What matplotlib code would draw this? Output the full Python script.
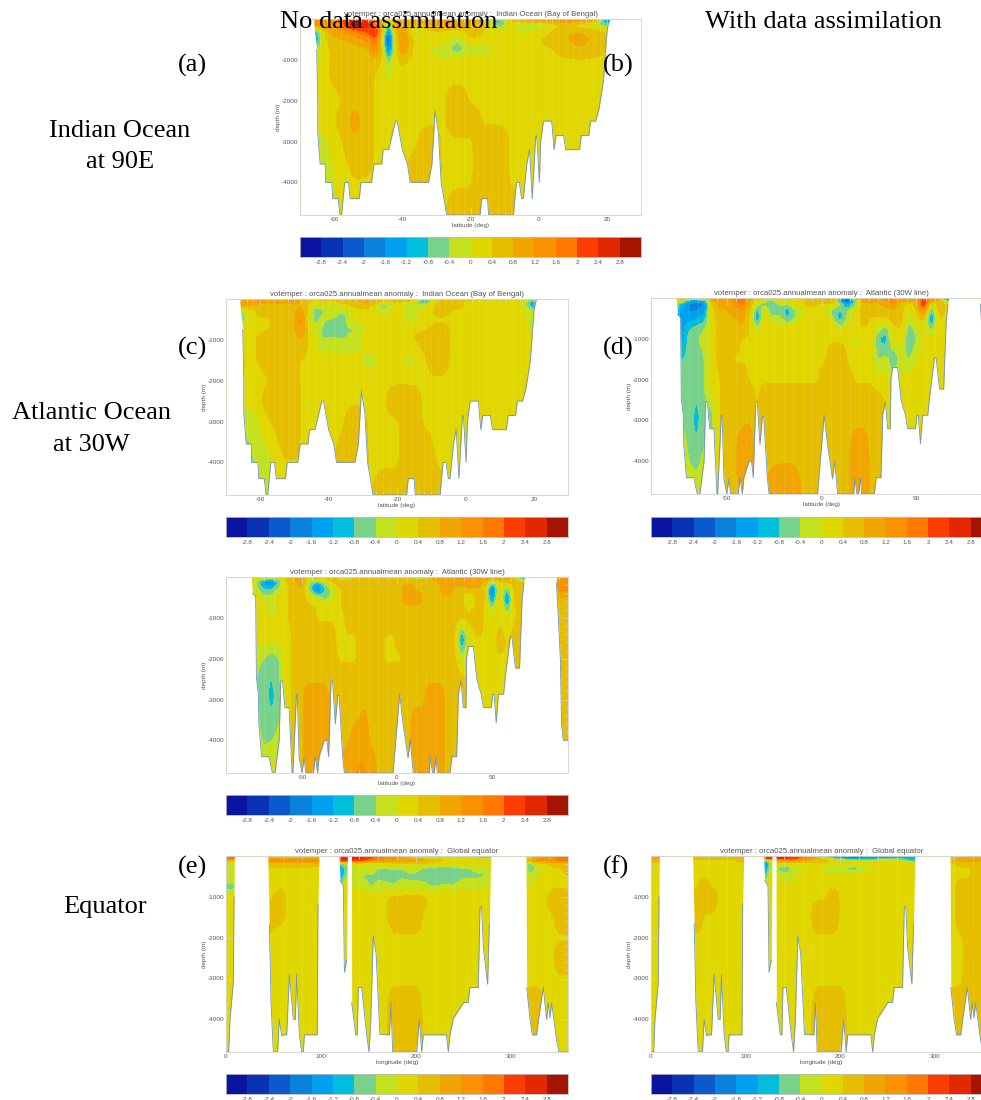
import numpy as np
import matplotlib
matplotlib.use("Agg")
import matplotlib.pyplot as plt
from matplotlib.colors import ListedColormap, BoundaryNorm

W, H = 981, 1100

# colour scale
levels = [-3.2, -2.8, -2.4, -2, -1.6, -1.2, -0.8, -0.4, 0, 0.4, 0.8, 1.2, 1.6, 2, 2.4, 2.8, 3.2]
colors = ["#0A14A0", "#0A32B4", "#0A5ACD", "#0A82DC", "#00A0F0", "#00BEDC", "#78D28C", "#C3E11E",
          "#E1D700", "#E6BE00", "#F0A500", "#FA9100", "#FF7800", "#FF3C00", "#E12800", "#A51400"]
cbar_ticks = [-2.8, -2.4, -2, -1.6, -1.2, -0.8, -0.4, 0, 0.4, 0.8, 1.2, 1.6, 2, 2.4, 2.8]
cbar_labels = ["-2.8", "-2.4", "-2", "-1.6", "-1.2", "-0.8", "-0.4", "0", "0.4", "0.8", "1.2", "1.6", "2", "2.4", "2.8"]

# --- Indian Ocean section ---
indian_lat = [-70, -66, -62, -58, -54, -50, -48, -46, -44, -42, -40, -36, -32, -28, -24, -20, -16, -12, -8, -4, 0, 4, 8, 12, 16, 20, 24]
section_depth = [0, 60, 150, 300, 500, 750, 1000, 1500, 2000, 2500, 3000, 4000, 4800]

indian_bot_lat = [-70, -66.1, -65.1, -64.8, -64.8, -64.1, -62.6, -62.5, -60.7, -60.4, -58.8, -58.3, -57.8, -56.9, -55.8, -55.3, -52.6, -52.1, -49, -48.3, -46, -45.6, -44, -42, -41.5, -40, -38.5, -37.7, -32.3, -31.3, -30.4, -29.4, -28.6, -27, -17.2, -16.7, -15, -14.7, -7.4, -7, -6.5, -5.7, -5, -4.5, -3.5, -2.7, -1.9, -0.9, -0.6, 0.2, 0.6, 1.4, 3.8, 4.5, 5.1, 7.3, 7.9, 12, 12.5, 14.7, 15.2, 16.7, 17.7, 19, 20, 20.4, 21, 30]
indian_bot_depth = [0, 0, 750, 2000, 2800, 3550, 3550, 4000, 4000, 4400, 4400, 4800, 4800, 4000, 4000, 4400, 4400, 4000, 4000, 3550, 3550, 3200, 3200, 2500, 2500, 3200, 3550, 4000, 4000, 3550, 2250, 2800, 4000, 4800, 4800, 4400, 4400, 4800, 4800, 4400, 4000, 4000, 4400, 4400, 3550, 3200, 4400, 2900, 2850, 4000, 3000, 2500, 2500, 3200, 2850, 2850, 3200, 3200, 2850, 2850, 2500, 2500, 2200, 1500, 350, 100, 0, 0]

# values in tenths of a degree
indian_a = [
    [12, 14, 14, 16, 22, 16, 14, 10, 2, 10, 12, 10, 12, 14, 12, 10, 10, -8, 8, 10, 12, 14, 16, 16, 12, -10, 2],
    [12, 14, 14, 18, 32, 22, 14, 8, -4, 8, 10, 8, 12, 14, 12, 10, 8, -12, 4, 6, 8, 8, 10, 8, 6, -14, 2],
    [8, 12, 12, 16, 32, 26, 18, 8, -8, 10, 12, 4, 8, 10, 10, 8, 6, -8, 2, -4, -4, 2, 6, 2, -2, -6, 2],
    [4, -12, 8, 12, 16, 22, 26, 6, -16, 6, 12, -3, 4, 4, 2, 6, 4, 2, 2, -2, 2, 4, 8, 8, 6, 4, 2],
    [4, -16, 6, 8, 10, 14, 20, 2, -26, 2, 14, 2, 2, 4, -4, 4, 4, 4, 4, 4, 4, 6, 8, 10, 8, 4, 2],
    [4, -6, 4, 6, 6, 8, 16, 4, -18, 2, 12, 2, 0, -2, -6, -2, -4, 2, 4, 4, 4, 4, 6, 8, 6, 4, 2],
    [4, 2, 4, 6, 6, 6, 6, 4, -6, 2, 6, 2, 2, 0, 2, 2, 2, 4, 4, 4, 4, 4, 4, 4, 4, 4, 2],
    [4, 4, 4, 6, 8, 6, 4, 2, 0, 2, 2, 2, 2, 4, 4, 4, 4, 4, 2, 2, 4, 4, 2, 4, 4, 4, 2],
    [4, 2, 2, 4, 8, 6, 4, 2, 2, 2, 2, 4, 4, 4, 6, 4, 4, 4, 4, 2, 2, 4, 4, 4, 4, 4, 2],
    [4, 2, 2, 6, 10, 6, 4, 2, 2, 2, 4, 4, 4, 4, 6, 6, 4, 4, 4, 4, 2, 4, 4, 4, 4, 4, 2],
    [4, -2, 0, 4, 8, 6, 4, 2, 2, 2, 4, 4, 6, 4, 4, 4, 6, 6, 4, 4, 2, 4, 4, 4, 4, 4, 2],
    [4, -4, -2, 2, 4, 4, 4, 2, 2, 2, 4, 6, 7, 4, 4, 4, 6, 6, 4, 4, 2, 4, 4, 4, 4, 4, 2],
    [4, -4, -2, 2, 4, 4, 4, 2, 2, 2, 4, 6, 6, 4, 6, 6, 6, 6, 6, 4, 2, 4, 4, 4, 4, 4, 2],
]
indian_c = [
    [10, 12, 12, 12, 12, 10, 8, 6, 4, 6, 6, 8, 8, 8, 6, 8, 8, -2, 6, 6, 8, -2, -2, -2, 4, -4, 2],
    [10, 12, 12, 12, 10, 10, 8, 6, 2, 4, 2, 6, 8, 10, 2, 6, 4, -14, 6, 6, 4, 2, 0, 4, 2, -10, 2],
    [-4, 10, 8, 6, 6, 8, 8, 4, -2, 2, -2, 2, 6, 6, -6, 2, -4, -2, 6, 6, 4, 2, 2, 4, 2, -14, 2],
    [2, -6, 4, 6, 4, 8, 10, 4, -6, -6, 2, -4, 2, 4, -4, 4, -2, 2, 6, 4, 4, 4, 4, 4, 2, -2, 2],
    [2, -8, 4, 4, 6, 8, 14, 2, -6, -2, -4, -6, 2, 2, 2, 2, -2, 2, 4, 4, 4, 4, 4, 4, 2, -4, 2],
    [2, 2, 4, 4, 6, 8, 13, 4, 0, -4, -8, -4, -4, 2, 2, 4, 4, 4, 6, 4, 4, 2, 2, 4, 4, -2, 2],
    [2, 2, 4, 6, 6, 6, 8, 4, 2, -4, -2, -4, -2, 4, 2, 4, 4, 6, 6, 4, 4, 2, 4, 4, 4, 2, 2],
    [2, 2, 4, 6, 6, 6, 4, 4, 2, 2, 2, 2, 2, -2, 2, 2, -2, 4, 6, 4, 4, 4, 2, 2, 2, 2, 2],
    [2, 2, 2, 4, 8, 6, 4, 2, 2, 2, 2, 2, 2, 2, 4, 4, 4, 4, 4, 4, 4, 2, 4, 2, 2, 2, 2],
    [2, 2, 2, 6, 8, 8, 4, 2, 2, 2, 2, 4, 4, 4, 4, 6, 6, 4, 4, 4, 4, 4, 4, 4, 4, 2, 2],
    [2, -4, -2, 4, 6, 8, 4, 2, 2, 2, 2, 4, 6, 4, 4, 4, 6, 4, 4, 4, 4, 4, 4, 4, 4, 2, 2],
    [2, -6, -4, -2, 4, 4, 4, 2, 2, 2, 4, 6, 7, 4, 4, 4, 6, 6, 4, 4, 4, 4, 4, 4, 4, 2, 2],
    [2, -6, -4, -2, 4, 4, 4, 2, 2, 2, 4, 6, 6, 4, 6, 6, 6, 6, 6, 4, 4, 4, 4, 4, 4, 2, 2],
]

# --- Atlantic section ---
atlantic_lat = [-90, -78, -74, -70, -66, -62, -58, -54, -50, -46, -42, -38, -34, -30, -26, -22, -18, -14, -10, -6, -2, 2, 6, 10, 14, 18, 22, 26, 30, 34, 38, 42, 46, 50, 54, 58, 62, 66, 70, 84, 90]

atlantic_bot_lat = [-90, -76.7, -76, -74.4, -74, -73, -72.7, -71.3, -67.4, -65.6, -64.2, -62, -61.2, -60.3, -59, -56.8, -55.2, -54.8, -52.9, -52.5, -51.5, -50, -48.9, -48, -44, -43, -41.8, -41, -38.3, -36.9, -36, -34.7, -33.9, -32.5, -31.2, -30.5, -28.6, -27.7, -2.1, 1.4, 3.2, 5.8, 7, 8.5, 17, 17.6, 18.7, 19.6, 20.5, 21.2, 27.9, 28.9, 31.4, 32.3, 33.7, 34.9, 36.3, 36.7, 37.6, 40.2, 42, 44.3, 45.5, 49.6, 50.4, 51.1, 52.2, 53.4, 56.1, 57, 59.6, 60.5, 62.3, 64.5, 65.8, 66.7, 67.2, 83.8, 83.9, 84.9, 86, 86.6, 87.5, 90]
atlantic_bot_depth = [0, 0, 400, 480, 2450, 2870, 3600, 4400, 4400, 4800, 4800, 4000, 2540, 2540, 3200, 3200, 4800, 4800, 2870, 2870, 4430, 4800, 4430, 4800, 4800, 4400, 4800, 4400, 4000, 4000, 4400, 2540, 2540, 3600, 2900, 2900, 4400, 4800, 4800, 2870, 3600, 4430, 4000, 4800, 4800, 4400, 4800, 4800, 4400, 4800, 4800, 4400, 4400, 2870, 2540, 3200, 3200, 1960, 1700, 1700, 2500, 2870, 3200, 3200, 2870, 2870, 3570, 2870, 2870, 2450, 1470, 1470, 2230, 2230, 600, 150, 0, 0, 150, 1000, 2050, 3600, 4000, 4000]

atlantic_mid = [
    [6, 6, 8, 6, 2, 4, 8, 10, 10, 2, 6, 4, 8, -2, -10, 4, -4, 6, 0, 6, -12, 8, 8, -14, -18, 8, 10, 10, 12, 14, 14, 14, 12, 10, 12, 12, 8, -16, 6, 10, 10],
    [6, 6, -2, -6, -8, -4, 6, 8, 10, 0, 4, 2, 6, 4, 4, 8, 6, 8, 6, 8, 6, 8, 8, 6, 4, 8, 10, 10, 10, 12, 12, 12, 10, 4, 8, 8, 6, -10, 6, 12, 12],
    [4, 2, -4, -14, -16, -6, 4, 8, 10, -4, -10, -4, 4, 6, 8, 8, 8, 8, 8, 8, 8, 8, 8, 8, 8, 8, 8, 10, 10, 10, 10, 10, 8, -6, 2, 4, 6, 6, 6, 15, 15],
    [4, 2, -2, -8, -8, -2, 4, 6, 8, -6, -18, -8, -2, 4, 6, 6, 8, 8, 8, 8, 8, 8, 10, 8, 8, 8, 8, 10, 8, 6, 8, 8, 6, -18, 2, -6, 6, 6, 6, 14, 14],
    [4, 2, 2, -2, -2, 2, 4, 6, 6, 2, -2, -6, -2, 4, 6, 6, 6, 8, 6, 8, 8, 8, 10, 10, 8, 8, 8, 8, 8, 6, -2, 6, 6, -16, 4, -16, 6, 6, 6, 8, 8],
    [4, 2, 2, 2, -2, 2, 4, 6, 6, 6, 4, 4, 4, 4, 6, 6, 6, 6, 6, 6, 8, 8, 8, 8, 8, 8, 8, 8, 6, 6, 2, 6, 4, -4, 4, -8, 4, 6, 6, 6, 6],
    [4, 2, 2, 2, 0, 2, 4, 6, 6, 6, 4, 4, 4, 2, 6, 6, 6, 6, 6, 6, 6, 6, 8, 8, 8, 8, 6, 8, 6, 6, 6, 8, 4, 0, 4, 0, 4, 6, 6, 6, 6],
    [4, 2, 2, 2, 2, 2, 2, 6, 6, 6, 6, 6, 6, 2, 4, 4, 6, 6, 6, 4, 4, 6, 6, 8, 6, 6, 6, 6, 6, -14, 0, 4, 4, 2, 6, 4, 6, 6, 6, 6, 6],
    [4, 2, -2, -4, -6, -4, 2, 6, 6, 6, 6, 6, 6, 4, 4, 4, 6, 6, 6, 4, 4, 4, 6, 6, 6, 6, 6, 6, 6, -2, 2, 4, 4, 4, 4, 4, 6, 6, 6, 6, 6],
    [4, 2, -4, -6, -8, -4, 2, 6, 8, 8, 8, 8, 6, 6, 6, 6, 6, 6, 6, 6, 6, 6, 8, 8, 8, 8, 8, 8, 8, 6, 4, 4, 4, 4, 4, 4, 6, 6, 6, 6, 6],
    [4, 2, -4, -6, -9, -6, 2, 6, 8, 10, 10, 10, 8, 6, 6, 6, 8, 8, 8, 8, 8, 8, 8, 8, 8, 10, 10, 8, 8, 6, 4, 4, 4, 4, 4, 4, 6, 6, 6, 6, 6],
    [4, 2, -2, -4, -4, -2, 2, 6, 8, 10, 12, 11, 8, 8, 8, 10, 10, 8, 8, 8, 8, 8, 8, 10, 10, 10, 10, 8, 8, 6, 4, 4, 4, 4, 4, 4, 6, 6, 6, 6, 6],
    [4, 2, -2, -2, 2, 2, 2, 6, 8, 10, 10, 10, 8, 8, 10, 12, 14, 10, 8, 8, 8, 8, 8, 10, 10, 10, 10, 8, 8, 6, 4, 4, 4, 4, 4, 4, 6, 6, 6, 6, 6],
]
atlantic_d = [
    [4, 8, 10, 10, 10, 10, 10, 12, 10, 12, 14, 10, 8, 6, 4, 4, -2, 4, -10, 4, 6, 8, 10, -6, -14, 10, 10, 8, 10, 12, 14, 12, 12, 12, 14, 10, 10, -20, 4, 4, 4],
    [4, 2, 2, -12, -14, -10, 8, 10, 10, 14, 20, 8, 2, -2, -6, 4, 2, 4, 4, 8, 6, 8, 8, -16, -24, -6, 10, 10, 8, 12, 16, 10, 10, 8, 24, 10, 8, -12, 4, 4, 4],
    [4, -2, -10, -16, -18, -16, 4, 10, 10, 12, 18, 8, -2, -6, -8, -2, -4, 2, 4, 6, 4, 4, 4, -4, -14, -4, 6, 8, 8, 10, 12, 6, 2, 6, 26, -2, 8, 4, 4, 4, 4],
    [4, -2, -14, -16, -16, -14, 2, 8, 8, 10, 12, 6, -10, 2, -8, -6, -10, -4, -2, 2, 4, 2, -6, -8, -4, 2, 6, 6, 6, 6, 8, 6, 0, 4, 14, -8, 6, 4, 4, 4, 4],
    [4, -2, -14, -14, -12, -10, 2, 6, 8, 8, 10, 4, -12, 2, -2, -2, -8, -4, 2, 4, 4, 4, -4, -10, -2, 2, 6, 4, 4, 4, 6, 6, -2, 2, 6, -14, 4, 4, 4, 4, 4],
    [4, -2, -14, -8, -6, -4, 2, 6, 6, 6, 8, 4, -2, 2, 2, 2, 2, 4, 4, 4, 4, 4, 4, -2, 2, 4, 4, 4, -2, -6, 4, 4, -6, -2, 2, -6, 4, 4, 4, 4, 4],
    [4, -2, -14, -6, -4, -2, 2, 6, 6, 6, 4, 4, 2, 2, 2, 2, 2, 4, 4, 4, 4, 4, 4, 4, 4, -2, 4, 2, -8, -10, 2, 2, -8, -4, 2, 2, 4, 4, 4, 4, 4],
    [4, -2, -8, -6, -6, -4, 2, 6, 6, 4, 4, 4, 2, 2, 2, 2, 2, 4, 4, 4, 4, 4, 6, 6, 4, 2, 4, 2, -4, -2, -8, -2, -4, 0, 2, 2, 4, 4, 4, 4, 4],
    [4, -2, -4, -4, -6, -4, 2, 4, 6, 6, 6, 4, 4, 4, 4, 4, 4, 4, 4, 4, 4, 6, 6, 6, 6, 4, 4, 4, 2, 2, -2, 2, 2, 2, 2, 4, 4, 4, 4, 4, 4],
    [4, -2, -4, -4, -8, -4, -2, 4, 6, 6, 8, 6, 4, 6, 6, 6, 6, 6, 6, 6, 6, 6, 8, 8, 8, 6, 6, 6, 6, 4, 2, 2, 2, 2, 4, 4, 4, 4, 4, 4, 4],
    [4, -2, -4, -6, -9, -6, -6, 4, 8, 8, 8, 8, 6, 6, 6, 6, 6, 6, 6, 6, 8, 8, 8, 8, 8, 8, 8, 8, 6, 4, 4, 4, 4, 4, 4, 4, 4, 4, 4, 4, 4],
    [4, 2, 2, -4, -6, -2, -2, 4, 6, 8, 10, 12, 8, 8, 8, 8, 8, 8, 8, 6, 6, 8, 8, 8, 8, 10, 10, 8, 8, 6, 4, 4, 4, 4, 4, 4, 4, 4, 4, 4, 4],
    [4, 2, 2, 2, 2, 2, 2, 4, 6, 8, 8, 8, 8, 8, 10, 12, 13, 10, 8, 8, 8, 8, 8, 8, 8, 10, 10, 8, 8, 6, 4, 4, 4, 4, 4, 4, 4, 4, 4, 4, 4],
]

# --- Equator section ---
equator_lon = [0, 8, 16, 24, 32, 40, 48, 56, 64, 72, 80, 88, 96, 104, 112, 120, 128, 136, 144, 152, 160, 168, 176, 184, 192, 200, 208, 216, 224, 232, 240, 248, 256, 264, 272, 280, 288, 296, 304, 312, 320, 328, 336, 344, 352, 360]
equator_depth = [0, 40, 100, 180, 300, 500, 750, 1000, 1500, 2000, 2500, 3000, 4000, 4800]

equator_bot_lon = [0, 2.8, 4.2, 7.7, 8.5, 8.8, 8.9, 43.8, 43.9, 45.6, 47.4, 49.8, 54.4, 56, 58.6, 60.4, 63.9, 66.7, 70.9, 73, 74.4, 77.2, 79.6, 81.4, 82.5, 96.1, 96.8, 97.9, 98, 118.9, 119, 120, 123.5, 124.6, 127, 127.7, 127.8, 131.9, 132, 132.3, 136.5, 138.2, 139.3, 142.8, 148, 150.5, 152.3, 155, 158, 162, 172, 173.7, 175.4, 200.7, 203.5, 206, 207.7, 232, 234, 235.8, 239.3, 250, 255, 256.8, 265.6, 267.4, 269, 270.9, 275.4, 277.2, 278.6, 278.7, 315.7, 315.8, 316.5, 320, 322.5, 327, 329, 334, 337.5, 339.3, 341, 342.8, 348, 350.5, 360]
equator_bot_depth = [4800, 4800, 4000, 3100, 1000, 0, 0, 0, 0, 1660, 3600, 4800, 4800, 4000, 4400, 4380, 4380, 2900, 4000, 4000, 2900, 4380, 4800, 4800, 4380, 4380, 1170, 0, 0, 0, 0, 600, 730, 2850, 2550, 0, 0, 0, 0, 3590, 4380, 4380, 3220, 3220, 4370, 4800, 4100, 1950, 2400, 4370, 4380, 3600, 4800, 4800, 4000, 4800, 4380, 4380, 4800, 4380, 3980, 3590, 3590, 3220, 3220, 1250, 1250, 2240, 3140, 1660, 0, 0, 0, 0, 3220, 4000, 4380, 4380, 4000, 3220, 4000, 3600, 3960, 3600, 4520, 4800, 4800]

equator_e = [
    [14, 14, 4, 4, 4, 4, 2, 4, 4, 4, 4, -2, -4, 4, 4, 28, 28, 20, 16, 12, 10, 8, 6, 2, -4, -8, -12, -10, -8, -8, -8, -6, -6, -8, -10, -10, 4, 4, 4, 4, 4, 8, 10, 12, 14, 16],
    [22, 20, 4, 4, 4, 4, 6, 6, 6, 6, 6, 6, 8, 4, 4, 28, 28, 26, 26, 22, 20, 16, 14, 10, 6, 2, -2, -4, -2, 2, 2, 0, -2, -4, -6, -6, 4, 4, 4, 4, 2, 10, 12, 14, 18, 20],
    [8, 6, 4, 4, 4, 4, 16, 16, 16, 16, 16, 16, 16, 4, 4, 24, 26, 22, 22, 16, 14, 12, 12, 12, 12, 10, 10, 8, 6, 4, 4, 4, 4, 2, 2, 2, 4, 4, 4, 4, 10, 14, 14, 16, 18, 18],
    [-2, -4, 4, 4, 4, 4, 6, 6, 6, 6, 6, 6, 8, 4, 4, -6, -2, 2, 2, 0, 2, 2, 4, 4, 4, 4, 4, 4, 2, 2, 2, 2, 2, 2, 2, 2, 4, 4, 4, 4, -6, 4, 4, 6, 6, 6],
    [-2, -2, 4, 4, 4, 4, 4, 4, 4, 4, 4, 4, 2, 4, 4, -14, -4, 0, -2, -2, -4, -4, -3, -4, -3, -3, -4, -5, -6, -6, -5, -4, -4, -3, -3, -3, 4, 4, 4, 4, -8, -2, 2, 4, 4, 6],
    [2, 0, 4, 4, 4, 4, 2, 2, 2, 2, 2, 2, 2, 4, 4, -14, -2, -2, -4, -4, -4, -5, -6, -4, -4, -4, -5, -6, -8, -8, -6, -4, -4, -4, -4, -2, 4, 4, 4, 4, -2, 0, 2, 4, 4, 4],
    [-6, -6, 4, 4, 4, 4, 2, 4, 4, 4, 2, 2, 2, 4, 4, 0, 2, 0, -2, -4, -3, -2, -3, -2, -3, -3, -2, -4, -3, -2, -3, -2, -2, -2, 0, 0, 4, 4, 4, 4, 0, 2, 2, 4, 4, 4],
    [2, 2, 4, 4, 4, 4, 4, 6, 4, 4, 4, 4, 4, 4, 4, 2, 2, 2, 4, 4, 4, 4, 5, 5, 6, 6, 5, 4, 4, 4, 4, 4, 4, 4, 4, 4, 4, 4, 4, 4, 2, 4, 4, 6, 6, 6],
    [4, 4, 4, 4, 4, 4, 6, 6, 4, 4, 4, 2, 2, 4, 4, 2, 2, 2, 4, 4, 4, 4, 6, 6, 6, 6, 4, 4, 4, 4, 4, 4, 4, 4, 4, 4, 4, 4, 4, 4, 4, 4, 4, 4, 6, 6],
    [2, 2, 4, 4, 4, 4, 4, 2, 2, 2, 2, 2, 2, 4, 4, 2, 2, 2, 2, 2, 2, 2, 4, 4, 4, 4, 4, 4, 4, 4, 4, 4, 4, 4, 2, 2, 4, 4, 4, 4, 2, 2, 4, 4, 4, 4],
    [2, 2, 4, 4, 4, 4, 2, 2, 2, 2, 2, 2, 2, 4, 4, 4, 4, 2, 4, 4, 4, 4, 4, 4, 4, 4, 4, 4, 4, 4, 4, 4, 4, 2, 2, 2, 4, 4, 4, 4, 2, 4, 4, 4, 6, 6],
    [2, 2, 4, 4, 4, 4, 4, 2, 2, 2, 2, 2, 2, 4, 4, 4, 4, 4, 4, 4, 4, 4, 4, 4, 4, 4, 4, 4, 4, 4, 4, 4, 4, 4, 4, 4, 4, 4, 4, 4, 4, 4, 4, 4, 4, 4],
    [4, 4, 4, 4, 4, 4, 2, 2, 2, 2, 2, 2, 2, 4, 4, 4, 4, 4, 4, 4, 4, 4, 6, 6, 6, 6, 4, 4, 4, 4, 4, 4, 4, 4, 4, 4, 4, 4, 4, 4, 6, 6, 4, 4, 4, 4],
    [4, 4, 4, 4, 4, 4, 2, 2, 2, 2, 2, 2, 2, 4, 4, 4, 4, 4, 4, 4, 4, 4, 6, 6, 6, 6, 4, 4, 4, 4, 4, 4, 4, 4, 4, 4, 4, 4, 4, 4, 6, 6, 4, 4, 4, 4],
]
equator_f = [
    [10, 10, 4, 4, 4, 4, 6, 6, 6, 6, 6, 6, 6, 4, 4, 24, 24, 18, 16, 12, 8, 4, -4, -10, -14, -16, -18, -18, -18, -18, -16, -14, -14, -12, -12, -12, 4, 4, 4, 4, 6, 8, 8, 8, 8, 8],
    [10, 10, 4, 4, 4, 4, 6, 6, 6, 6, 6, 6, 6, 4, 4, 26, 24, 28, 26, 24, 20, 14, 6, -4, -10, -14, -18, -18, -18, -16, -14, -14, -12, -10, -12, -12, 4, 4, 4, 4, 8, 8, 10, 8, 8, 8],
    [6, 6, 4, 4, 4, 4, 4, 4, 4, 4, 4, 4, 6, 4, 4, -4, 2, 14, 14, 12, 10, 8, 8, 6, 2, 0, -4, -6, -4, -4, -2, -2, -2, -4, -8, -8, 4, 4, 4, 4, 8, 10, 10, 10, 8, 8],
    [4, 4, 4, 4, 4, 4, 4, 4, 4, 4, 4, 4, 4, 4, 4, -18, 0, 2, 0, 2, 2, 2, 4, 4, 2, 2, 2, 2, 2, 2, 2, 2, 2, 2, 2, -4, 4, 4, 4, 4, 4, 6, 6, 6, 6, 6],
    [4, 4, 4, 4, 4, 4, 4, 4, 4, 4, 4, 4, 4, 4, 4, -16, 2, -6, -6, -2, 0, 0, 2, -2, -5, -3, -5, -6, -2, 0, 2, 2, 2, 2, 2, 0, 4, 4, 4, 4, 4, 4, 4, 6, 6, 6],
    [2, 2, 4, 4, 4, 4, 4, 4, 4, 4, 4, 4, 4, 4, 4, -8, 2, 0, -2, 0, 2, 2, 2, 2, 2, 2, 2, 2, 2, 2, 2, 2, 2, 2, 2, 2, 4, 4, 4, 4, 4, 4, 4, 6, 6, 6],
    [2, 2, 4, 4, 4, 4, 4, 6, 4, 4, 4, 4, 4, 4, 4, 2, 2, 2, 2, 2, 2, 2, 4, 4, 4, 4, 4, 4, 4, 4, 4, 4, 2, 2, 2, 2, 4, 4, 4, 4, 4, 6, 6, 8, 8, 8],
    [2, 2, 4, 4, 4, 4, 6, 6, 6, 4, 4, 4, 4, 4, 4, 4, 2, 2, 4, 4, 4, 4, 4, 4, 6, 4, 4, 4, 4, 4, 4, 4, 4, 4, 4, 2, 4, 4, 4, 4, 4, 6, 8, 8, 8, 6],
    [4, 4, 4, 4, 4, 4, 6, 4, 4, 4, 4, 4, 4, 4, 4, 4, 2, 2, 4, 4, 4, 4, 6, 6, 6, 4, 4, 4, 4, 4, 4, 4, 4, 4, 4, 4, 4, 4, 4, 4, 4, 6, 6, 6, 6, 6],
    [4, 4, 4, 4, 4, 4, 4, 4, 4, 4, 4, 4, 4, 4, 4, 4, 4, 4, 4, 4, 4, 4, 4, 4, 4, 4, 4, 4, 4, 4, 4, 4, 4, 4, 4, 4, 4, 4, 4, 4, 4, 4, 6, 6, 6, 6],
    [4, 4, 4, 4, 4, 4, 4, 4, 4, 4, 4, 4, 4, 4, 4, 4, 4, 4, 4, 4, 4, 4, 4, 4, 4, 4, 4, 4, 4, 4, 4, 4, 4, 4, 4, 4, 4, 4, 4, 4, 4, 4, 6, 6, 6, 6],
    [4, 4, 4, 4, 4, 4, 4, 4, 4, 4, 4, 4, 4, 4, 4, 4, 4, 4, 4, 4, 4, 4, 4, 4, 4, 4, 4, 4, 4, 4, 4, 4, 4, 4, 4, 4, 4, 4, 4, 4, 4, 4, 6, 6, 6, 6],
    [4, 4, 4, 4, 4, 4, 4, 4, 4, 4, 4, 4, 4, 4, 4, 4, 4, 4, 4, 4, 4, 4, 6, 6, 6, 6, 4, 4, 4, 4, 4, 4, 4, 4, 4, 4, 4, 4, 4, 4, 6, 6, 6, 6, 4, 4],
    [4, 4, 4, 4, 4, 4, 4, 4, 4, 4, 4, 4, 4, 4, 4, 4, 4, 4, 4, 4, 4, 4, 6, 6, 6, 6, 4, 4, 4, 4, 4, 4, 4, 4, 4, 4, 4, 4, 4, 4, 6, 6, 6, 6, 4, 4],
]

cmap = ListedColormap(colors)
norm = BoundaryNorm(levels, cmap.N)
grey = "#555555"
light = "#d4d4d4"
fig = plt.figure(figsize=(W / 100, H / 100), dpi=100)
plt.rcParams["font.family"] = ["Liberation Sans", "DejaVu Sans"]


def px_axes(left, top, right, bottom):
    return fig.add_axes([left / W, 1 - bottom / H, (right - left) / W, (bottom - top) / H])


def soften(x, depth, field):
    # the reference is a blurry screenshot, so round off the grid facets before contouring
    n_d, n_x = len(depth), len(x)
    idx_x = np.linspace(0, n_x - 1, (n_x - 1) * 8 + 1)
    idx_d = np.linspace(0, n_d - 1, (n_d - 1) * 8 + 1)
    grid = np.array([np.interp(idx_x, np.arange(n_x), row) for row in np.array(field, dtype=float)])
    grid = np.array([np.interp(idx_d, np.arange(n_d), col) for col in grid.T]).T
    kernel = np.ones(5) / 5
    for axis in (0, 1):
        padded = np.pad(grid, [(2, 2) if a == axis else (0, 0) for a in (0, 1)], mode="edge")
        grid = np.apply_along_axis(lambda v: np.convolve(v, kernel, mode="valid"), axis, padded)
    return np.interp(idx_x, np.arange(n_x), x), np.interp(idx_d, np.arange(n_d), depth), grid


def section(box, cbar_top, x, depth, field, bot_x, bot_depth, xlim, xticks, xminor, xlabel, title):
    ax = px_axes(*box)
    fx, fd, grid = soften(x, depth, field)
    # the 0.04 keeps values read as 0.4, 0.8 ... off the colour boundaries
    ax.contourf(fx, -fd, grid / 10 - 0.04, levels=levels, cmap=cmap, norm=norm, extend="both")
    ax.grid(True, axis="x", which="minor", color="white", alpha=0.1, lw=0.6, zorder=1.5)
    bot = -np.array(bot_depth, dtype=float)
    ax.fill_between(bot_x, bot, -4800, color="white", lw=0, zorder=2)
    ax.plot(bot_x, np.where(bot < 0, bot, np.nan), color="#6f94b8", lw=0.6, zorder=3)
    ax.set_xlim(*xlim)
    ax.set_ylim(-4800, 0)
    ax.set_xticks(xticks)
    ax.set_xticklabels([str(t) for t in xticks])
    ax.set_xticks(xminor, minor=True)
    ax.set_yticks([-1000, -2000, -3000, -4000])
    ax.set_yticklabels(["-1000", "-2000", "-3000", "-4000"])
    ax.set_yticks(np.arange(-4800, 1, 200), minor=True)
    ax.tick_params(which="major", direction="in", length=5, width=0.5, color=light, labelsize=4.6,
                   labelcolor=grey, top=True, right=True, pad=1.5)
    ax.tick_params(which="minor", direction="in", length=2.5, width=0.5, color=light, top=True, right=True)
    for s in ax.spines.values():
        s.set_color(light)
        s.set_linewidth(0.6)
    ax.set_xlabel(xlabel, fontsize=4.6, color=grey, labelpad=1)
    ax.set_ylabel("depth (m)", fontsize=4.6, color=grey, labelpad=0)
    ax.set_title(title, fontsize=5.6, color=grey, pad=2)

    cax = px_axes(box[0], cbar_top, box[2], cbar_top + 20)
    mids = [[lo for lo in levels[:-1]]]
    cax.pcolormesh(levels, [0, 1], mids, cmap=cmap, norm=norm)
    cax.set_xlim(-3.2, 3.2)
    cax.set_yticks([])
    cax.set_xticks(cbar_ticks)
    cax.set_xticklabels(cbar_labels)
    cax.tick_params(length=0, labelsize=4.6, labelcolor=grey, pad=2.5)
    for s in cax.spines.values():
        s.set_color("#bbbbbb")
        s.set_linewidth(0.6)


def label(x, y, text, ha="left"):
    fig.text(x / W, 1 - (y + 2) / H, text, family="Liberation Serif", fontsize=19, ha=ha, va="center", color="black", zorder=10)


title_base = "votemper : orca025.annualmean anomaly :  "
lat_ticks = [-60, -40, -20, 0, 20]
lat_minor = np.arange(-70, 31, 2)
atl_ticks = [-50, 0, 50]
atl_minor = np.arange(-90, 91, 5)
lon_ticks = [0, 100, 200, 300]
lon_minor = np.arange(0, 361, 20)

section((300, 19, 641, 215), 237, indian_lat, section_depth, indian_a, indian_bot_lat, indian_bot_depth,
        (-70, 30), lat_ticks, lat_minor, "latitude (deg)", title_base + "Indian Ocean (Bay of Bengal)")
section((226, 299, 568, 495), 517, indian_lat, section_depth, indian_c, indian_bot_lat, indian_bot_depth,
        (-70, 30), lat_ticks, lat_minor, "latitude (deg)", title_base + "Indian Ocean (Bay of Bengal)")
section((651, 298, 992, 494), 517, atlantic_lat, section_depth, atlantic_d, atlantic_bot_lat, atlantic_bot_depth,
        (-90, 90), atl_ticks, atl_minor, "latitude (deg)", title_base + "Atlantic (30W line)")
section((226, 577, 568, 773), 795, atlantic_lat, section_depth, atlantic_mid, atlantic_bot_lat, atlantic_bot_depth,
        (-90, 90), atl_ticks, atl_minor, "latitude (deg)", title_base + "Atlantic (30W line)")
section((226, 856, 568, 1052), 1074, equator_lon, equator_depth, equator_e, equator_bot_lon, equator_bot_depth,
        (0, 360), lon_ticks, lon_minor, "longitude (deg)", title_base + "Global equator")
section((651, 856, 992, 1052), 1074, equator_lon, equator_depth, equator_f, equator_bot_lon, equator_bot_depth,
        (0, 360), lon_ticks, lon_minor, "longitude (deg)", title_base + "Global equator")

label(280, 20, "No data assimilation")
label(705, 20, "With data assimilation")
label(178, 63, "(a)")
label(603, 63, "(b)")
label(120, 129, "Indian Ocean", ha="center")
label(120, 160, "at 90E", ha="center")
label(178, 346, "(c)")
label(603, 346, "(d)")
label(91, 411, "Atlantic Ocean", ha="center")
label(91, 443, "at 30W", ha="center")
label(178, 865, "(e)")
label(603, 865, "(f)")
label(105, 905, "Equator", ha="center")

fig.savefig("out.png", dpi=100)
